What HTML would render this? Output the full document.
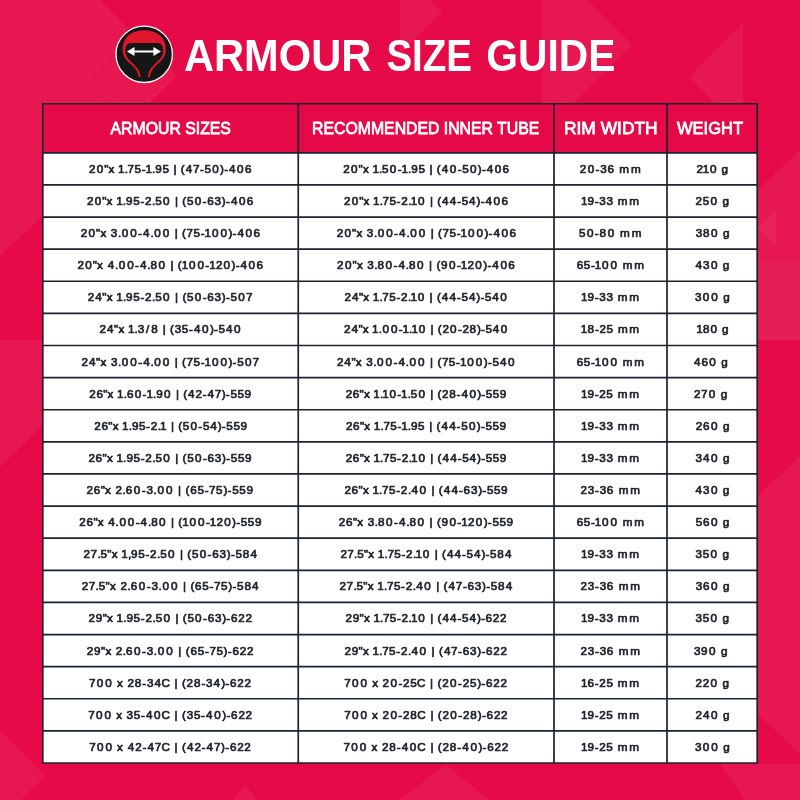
<!DOCTYPE html>
<html lang="en"><head><meta charset="utf-8"><title>Armour Size Guide</title>
<style>
html,body{margin:0;padding:0}
body{width:800px;height:800px;overflow:hidden;position:relative;background:#e60b48;font-family:"Liberation Sans",sans-serif;}
#bg{position:absolute;left:0;top:0}
.h{position:absolute;display:flex;align-items:center;justify-content:center;white-space:nowrap;font-weight:normal;color:#fff;font-size:17.00px;-webkit-text-stroke:0.80px #fff}
.h span{display:inline-block}
</style></head><body>
<svg id="bg" width="800" height="800" viewBox="0 0 800 800">
<rect width="800" height="800" fill="#e60b48"/>
<g fill="#fff" fill-opacity="0.05">
<polygon points="0,0 100,0 176,76 149,103 60,103 60,199 0,256"/>
<polygon points="0,340 60,340 60,408 0,467"/>
<polygon points="743,23 689,77 743,131"/>
<polygon points="542,0 587,0 632,45 574,103 542,103"/>
<polygon points="400,0 430,0 442,12 400,54"/>
<polygon points="740,207 800,150 800,340 740,340"/>
<polygon points="757,228 776,210 776,246"/>
<polygon points="740,262 800,262 800,340 740,340" fill-opacity="0.03"/>
<polygon points="740,513 800,456 800,753 740,698"/>
<polygon points="0,730 45.6,775.7 21,800 0,800"/>
<polygon points="400,800 445,765 490,800"/>
<polygon points="720,764 800,764 800,800 745,800"/>
<polygon points="233,800 245,784 256,800"/>
</g>
<polygon points="88.5,75 132,31.5 175.5,75 132,118.5" fill="none" stroke="#fff" stroke-opacity="0.08" stroke-width="1"/>
</svg>
<svg id="logo" style="position:absolute;left:110px;top:20px" width="70" height="70" viewBox="110 20 70 70">
<circle cx="144.2" cy="54.3" r="28.2" fill="#161616" stroke="#fff" stroke-width="1.3"/>
<path d="M144.2 30.3 C130.5 30.3 122.6 38 122.6 49.5 C122.6 58 128 61.2 132 65.2 C136 69.2 138 72 138.6 77 L140.6 77 C140 71 137.5 68 133.5 64 C129.5 60 125.2 57 125.2 51 C125.2 46 127 43 131 43 L157.4 43 C161.4 43 163.2 46 163.2 51 C163.2 57 158.9 60 154.9 64 C150.9 68 148.4 71 147.8 77 L149.8 77 C150.4 72 152.4 69.2 156.4 65.2 C160.4 61.2 165.8 58 165.8 49.5 C165.8 38 157.9 30.3 144.2 30.3 Z" fill="#e0162d"/>
<path d="M127 51.4 L134.5 46.9 L134.5 50.4 L153.4 50.4 L153.4 46.9 L160.9 51.4 L153.4 55.9 L153.4 52.4 L134.5 52.4 L134.5 55.9 Z" fill="#fff"/>
</svg>
<svg style="position:absolute;left:0;top:0" width="800" height="100" viewBox="0 0 800 100"><g font-family="Liberation Sans, sans-serif" font-weight="bold" font-size="45.00" fill="#fff" style="font-kerning:none">
<text transform="scale(0.9255,1)" x="198.77" y="71.00">ARMOUR</text>
<text transform="scale(0.8570,1)" x="450.86" y="71.00">SIZE</text>
<text transform="scale(0.9053,1)" x="537.23" y="71.00">GUIDE</text>
</g></svg>
<div style="position:absolute;left:42.80px;top:103.75px;width:714.40px;height:49.05px;background:#e50a47"></div>
<div style="position:absolute;left:42.80px;top:152.80px;width:714.40px;height:610.20px;background:#fff"></div>
<svg style="position:absolute;left:0;top:0" width="800" height="800" viewBox="0 0 800 800"><g stroke="#1a2330" stroke-width="1.70" fill="none">
<path d="M42.80 102.90V763.85M298.25 102.90V763.85M554.00 102.90V763.85M667.00 102.90V763.85M757.20 102.90V763.85M41.95 103.75H758.05M41.95 152.80H758.05M41.95 184.92H758.05M41.95 217.03H758.05M41.95 249.15H758.05M41.95 281.26H758.05M41.95 313.38H758.05M41.95 345.49H758.05M41.95 377.61H758.05M41.95 409.73H758.05M41.95 441.84H758.05M41.95 473.96H758.05M41.95 506.07H758.05M41.95 538.19H758.05M41.95 570.31H758.05M41.95 602.42H758.05M41.95 634.54H758.05M41.95 666.65H758.05M41.95 698.77H758.05M41.95 730.88H758.05M41.95 763.00H758.05"/>
</g></svg>
<div class="h" style="left:42.80px;top:103.75px;width:255.45px;height:49.05px"><span style="transform:translate(0.00px,1.00px) scaleX(0.9302)">ARMOUR SIZES</span></div>
<div class="h" style="left:298.25px;top:103.75px;width:255.75px;height:49.05px"><span style="transform:translate(-0.50px,1.00px) scaleX(0.9296)">RECOMMENDED INNER TUBE</span></div>
<div class="h" style="left:554.00px;top:103.75px;width:113.00px;height:49.05px"><span style="transform:translate(0.00px,1.00px) scaleX(1.0225)">RIM WIDTH</span></div>
<div class="h" style="left:667.00px;top:103.75px;width:90.20px;height:49.05px"><span style="transform:translate(-2.00px,1.00px) scaleX(0.9706)">WEIGHT</span></div>
<svg style="position:absolute;left:0;top:0" width="800" height="800" viewBox="0 0 800 800"><g font-family="Liberation Sans, sans-serif" font-size="11.70" fill="#1d212b" stroke="#1d212b" stroke-width="0.70" stroke-linejoin="round" style="font-kerning:none;white-space:pre">
<text x="89.0 96.8 104.2 108.6 114.7 118.1 124.7 127.6 134.5 141.7 145.5 152.1 155.3 162.4 169.1 173.6 177.2 180.8 185.8 192.9 199.9 204.5 212.2 220.1 224.2 229.1 237.1 244.9" y="172.85" xml:space="preserve">20"x 1.75-1.95 | (47-50)-406</text>
<text x="343.3 351.0 358.5 362.9 369.0 372.4 379.0 382.1 389.8 397.7 401.5 408.1 411.3 418.4 425.1 429.6 433.2 436.8 441.8 449.8 457.7 462.2 469.9 477.8 481.9 486.8 494.8 502.6" y="172.85" xml:space="preserve">20"x 1.50-1.95 | (40-50)-406</text>
<text x="579.8 587.7 595.6 600.3 607.5 614.5 619.3 631.0" y="172.85" xml:space="preserve">20-36 mm</text>
<text x="696.6 702.8 710.0 717.3 721.5" y="172.85" xml:space="preserve">210 g</text>
<text x="86.9 94.7 102.2 106.6 112.7 116.2 122.8 126.0 133.2 140.4 145.0 152.0 155.2 163.0 170.5 175.0 178.6 182.3 186.9 194.7 202.6 207.3 214.5 221.8 225.9 230.9 238.9 246.7" y="204.97" xml:space="preserve">20"x 1.95-2.50 | (50-63)-406</text>
<text x="344.0 351.7 359.2 363.6 369.7 373.1 379.7 382.6 389.5 396.6 401.2 408.2 410.7 418.0 425.5 429.9 433.5 437.2 442.1 449.8 457.2 461.8 469.1 476.6 480.7 485.6 493.6 501.4" y="204.97" xml:space="preserve">20"x 1.75-2.10 | (44-54)-406</text>
<text x="580.9 587.5 594.7 599.3 606.4 613.1 617.8 629.3" y="204.97" xml:space="preserve">19-33 mm</text>
<text x="695.6 702.7 710.6 718.1 722.5" y="204.97" xml:space="preserve">250 g</text>
<text x="80.8 88.6 96.1 100.5 106.6 110.8 117.9 121.7 130.2 138.1 143.1 150.4 154.3 162.8 170.3 174.7 178.4 182.1 186.6 193.5 200.7 204.6 212.0 220.5 228.4 232.5 237.5 245.6 253.4" y="237.08" xml:space="preserve">20"x 3.00-4.00 | (75-100)-406</text>
<text x="336.8 344.6 352.1 356.5 362.6 366.8 373.9 377.7 386.2 394.1 399.1 406.4 410.3 418.8 426.3 430.7 434.4 438.1 442.6 449.5 456.7 460.6 468.0 476.5 484.4 488.5 493.5 501.6 509.4" y="237.08" xml:space="preserve">20"x 3.00-4.00 | (75-100)-406</text>
<text x="579.0 586.9 594.8 599.6 607.7 615.2 620.1 631.8" y="237.08" xml:space="preserve">50-80 mm</text>
<text x="695.7 703.0 711.0 718.5 723.0" y="237.08" xml:space="preserve">380 g</text>
<text x="77.5 85.3 92.8 97.1 103.2 107.7 115.0 118.8 127.3 135.1 140.0 147.3 150.6 158.6 166.0 170.5 174.1 177.8 181.7 189.0 197.5 205.3 209.2 215.9 223.6 231.6 235.7 240.6 248.6 256.4" y="269.20" xml:space="preserve">20"x 4.00-4.80 | (100-120)-406</text>
<text x="337.1 345.0 352.5 356.9 363.0 367.2 374.3 377.6 385.6 393.5 398.5 405.8 409.1 417.1 424.6 429.1 432.7 436.4 441.1 449.0 456.9 460.8 467.5 475.3 483.3 487.4 492.3 500.4 508.2" y="269.20" xml:space="preserve">20"x 3.80-4.80 | (90-120)-406</text>
<text x="576.7 583.8 591.0 594.8 602.1 610.5 618.0 622.7 634.2" y="269.20" xml:space="preserve">65-100 mm</text>
<text x="695.6 703.1 710.9 718.4 722.8" y="269.20" xml:space="preserve">430 g</text>
<text x="87.7 95.2 102.3 106.7 112.8 116.3 122.9 126.1 133.2 140.4 145.1 152.1 155.3 163.0 170.5 175.0 178.7 182.4 187.0 194.8 202.7 207.3 214.6 221.8 226.0 230.6 238.3 245.9" y="301.31" xml:space="preserve">24"x 1.95-2.50 | (50-63)-507</text>
<text x="344.5 351.9 358.9 363.3 369.4 372.8 379.4 382.3 389.2 396.4 400.9 407.9 410.4 417.7 425.2 429.6 433.2 436.9 441.8 449.5 456.9 461.5 468.9 476.3 480.4 485.0 492.3 500.3" y="301.31" xml:space="preserve">24"x 1.75-2.10 | (44-54)-540</text>
<text x="580.9 587.5 594.7 599.3 606.4 613.1 617.8 629.3" y="301.31" xml:space="preserve">19-33 mm</text>
<text x="694.9 702.7 711.3 718.8 723.2" y="301.31" xml:space="preserve">300 g</text>
<text x="99.5 106.9 114.0 118.4 124.5 128.0 134.6 137.8 146.1 151.2 158.2 162.7 166.3 170.0 174.7 181.8 189.0 193.9 202.0 209.9 214.0 218.6 226.0 234.1" y="333.43" xml:space="preserve">24"x 1.3/8 | (35-40)-540</text>
<text x="344.0 351.4 358.4 362.7 368.8 372.1 378.7 382.5 390.9 398.7 402.5 409.0 411.4 418.7 426.1 430.5 434.2 437.8 442.4 450.1 457.9 462.4 469.6 477.0 481.0 485.5 492.8 500.8" y="333.43" xml:space="preserve">24"x 1.00-1.10 | (20-28)-540</text>
<text x="580.8 587.6 594.9 599.5 606.5 613.2 617.9 629.3" y="333.43" xml:space="preserve">18-25 mm</text>
<text x="696.2 702.9 710.6 718.0 722.1" y="333.43" xml:space="preserve">180 g</text>
<text x="81.6 89.1 96.1 100.6 106.7 110.9 117.9 121.8 130.3 138.2 143.2 150.5 154.3 162.8 170.3 174.8 178.5 182.1 186.6 193.6 200.7 204.6 212.0 220.5 228.5 232.6 237.2 245.0 252.6" y="365.54" xml:space="preserve">24"x 3.00-4.00 | (75-100)-507</text>
<text x="336.9 344.3 351.4 355.8 361.9 366.2 373.2 377.1 385.6 393.5 398.4 405.7 409.6 418.1 425.6 430.1 433.7 437.4 441.9 448.8 456.0 459.9 467.3 475.8 483.8 487.9 492.5 499.9 508.0" y="365.54" xml:space="preserve">24"x 3.00-4.00 | (75-100)-540</text>
<text x="576.7 583.8 591.0 594.8 602.1 610.5 618.0 622.7 634.2" y="365.54" xml:space="preserve">65-100 mm</text>
<text x="693.9 701.4 709.3 716.9 721.3" y="365.54" xml:space="preserve">460 g</text>
<text x="89.3 96.4 103.2 107.6 113.7 117.1 123.7 126.9 134.7 142.6 146.4 153.0 156.2 164.0 171.4 175.9 179.5 183.2 188.1 195.5 202.6 207.5 214.7 221.8 225.8 230.4 237.4 244.5" y="397.66" xml:space="preserve">26"x 1.60-1.90 | (42-47)-559</text>
<text x="345.7 352.7 359.6 363.9 370.0 373.3 379.9 382.3 389.5 397.3 401.1 407.7 410.8 418.4 425.9 430.3 433.9 437.5 442.1 449.3 456.6 461.4 469.4 477.3 481.3 485.8 492.8 499.8" y="397.66" xml:space="preserve">26"x 1.10-1.50 | (28-40)-559</text>
<text x="580.9 587.6 594.8 599.3 606.3 613.1 617.7 629.2" y="397.66" xml:space="preserve">19-25 mm</text>
<text x="694.1 701.1 708.8 716.3 720.7" y="397.66" xml:space="preserve">270 g</text>
<text x="94.3 101.4 108.3 112.7 118.7 122.1 128.7 131.9 139.0 146.1 150.7 157.7 160.1 166.5 170.9 174.6 178.2 182.8 190.5 198.3 202.9 210.2 217.7 221.8 226.3 233.4 240.4" y="429.78" xml:space="preserve">26"x 1.95-2.1 | (50-54)-559</text>
<text x="346.0 353.1 360.0 364.3 370.4 373.8 380.4 383.4 390.2 397.4 401.2 407.8 411.0 418.1 424.8 429.3 432.9 436.6 441.5 449.2 456.6 461.2 468.9 476.8 480.9 485.4 492.4 499.5" y="429.78" xml:space="preserve">26"x 1.75-1.95 | (44-50)-559</text>
<text x="580.9 587.5 594.7 599.3 606.4 613.1 617.8 629.3" y="429.78" xml:space="preserve">19-33 mm</text>
<text x="695.7 702.9 710.9 718.4 722.9" y="429.78" xml:space="preserve">260 g</text>
<text x="88.5 95.6 102.6 107.0 113.1 116.5 123.1 126.4 133.5 140.7 145.3 152.4 155.5 163.3 170.8 175.3 178.9 182.6 187.3 195.0 202.9 207.6 214.8 222.1 226.2 230.8 237.9 245.0" y="461.89" xml:space="preserve">26"x 1.95-2.50 | (50-63)-559</text>
<text x="345.7 352.8 359.7 364.1 370.1 373.5 380.1 383.1 390.0 397.1 401.7 408.7 411.1 418.4 425.9 430.3 434.0 437.6 442.6 450.2 457.7 462.2 469.6 477.1 481.2 485.7 492.7 499.8" y="461.89" xml:space="preserve">26"x 1.75-2.10 | (44-54)-559</text>
<text x="580.9 587.5 594.7 599.3 606.4 613.1 617.8 629.3" y="461.89" xml:space="preserve">19-33 mm</text>
<text x="695.5 703.0 711.1 718.7 723.1" y="461.89" xml:space="preserve">340 g</text>
<text x="86.5 93.7 100.7 105.1 111.3 115.5 122.6 125.8 133.8 141.8 146.5 153.5 157.4 166.0 173.5 178.0 181.7 185.4 190.2 197.4 204.7 209.1 216.1 223.4 227.5 232.2 239.3 246.5" y="494.01" xml:space="preserve">26"x 2.60-3.00 | (65-75)-559</text>
<text x="344.4 351.6 358.5 362.9 369.0 372.5 379.1 382.1 389.0 396.2 400.8 407.9 411.4 419.5 427.0 431.4 435.1 438.8 443.8 451.5 459.0 463.6 470.9 478.2 482.3 486.9 493.9 501.0" y="494.01" xml:space="preserve">26"x 1.75-2.40 | (44-63)-559</text>
<text x="580.5 587.7 595.0 599.7 606.8 613.8 618.7 630.3" y="494.01" xml:space="preserve">23-36 mm</text>
<text x="695.6 703.1 710.9 718.4 722.8" y="494.01" xml:space="preserve">430 g</text>
<text x="79.3 86.5 93.4 97.7 103.8 108.3 115.6 119.4 127.8 135.7 140.6 147.9 151.2 159.1 166.6 171.1 174.7 178.3 182.3 189.6 198.0 205.9 209.8 216.4 224.2 232.1 236.2 240.8 247.8 254.9" y="526.12" xml:space="preserve">26"x 4.00-4.80 | (100-120)-559</text>
<text x="338.8 346.0 352.9 357.3 363.5 367.7 374.7 378.1 386.0 394.0 398.9 406.2 409.6 417.5 425.0 429.5 433.2 436.9 441.6 449.4 457.3 461.2 467.9 475.8 483.7 487.8 492.4 499.5 506.6" y="526.12" xml:space="preserve">26"x 3.80-4.80 | (90-120)-559</text>
<text x="576.7 583.8 591.0 594.8 602.1 610.5 618.0 622.7 634.2" y="526.12" xml:space="preserve">65-100 mm</text>
<text x="695.7 702.9 710.9 718.4 722.8" y="526.12" xml:space="preserve">560 g</text>
<text x="83.6 90.5 97.4 100.6 107.3 111.8 117.9 121.3 127.9 131.0 138.2 145.4 150.0 157.0 160.2 168.0 175.5 180.0 183.6 187.3 192.0 199.7 207.6 212.3 219.6 226.8 230.9 235.5 242.8 250.4" y="558.24" xml:space="preserve">27.5"x 1,95-2.50 | (50-63)-584</text>
<text x="340.4 347.3 354.1 357.2 364.0 368.3 374.4 377.8 384.4 387.4 394.3 401.4 406.0 413.0 415.4 422.8 430.2 434.7 438.3 442.0 446.9 454.6 462.1 466.6 474.0 481.5 485.6 490.1 497.3 504.9" y="558.24" xml:space="preserve">27.5"x 1.75-2.10 | (44-54)-584</text>
<text x="580.9 587.5 594.7 599.3 606.4 613.1 617.8 629.3" y="558.24" xml:space="preserve">19-33 mm</text>
<text x="695.6 702.8 710.6 718.1 722.5" y="558.24" xml:space="preserve">350 g</text>
<text x="81.7 88.7 95.6 98.8 105.6 110.0 116.2 120.4 127.5 130.8 138.7 146.7 151.4 158.4 162.4 170.9 178.4 183.0 186.6 190.4 195.1 202.3 209.6 214.0 221.0 228.3 232.4 237.1 244.4 252.1" y="590.36" xml:space="preserve">27.5"x 2.60-3.00 | (65-75)-584</text>
<text x="339.6 346.5 353.4 356.6 363.3 367.8 373.9 377.3 383.9 386.9 393.9 401.1 405.7 412.7 416.2 424.3 431.8 436.3 440.0 443.6 448.6 455.8 462.9 467.5 474.8 482.1 486.2 490.8 498.0 505.7" y="590.36" xml:space="preserve">27.5"x 1.75-2.40 | (47-63)-584</text>
<text x="580.5 587.7 595.0 599.7 606.8 613.8 618.7 630.3" y="590.36" xml:space="preserve">23-36 mm</text>
<text x="695.8 702.9 710.9 718.4 722.9" y="590.36" xml:space="preserve">360 g</text>
<text x="88.6 95.8 102.7 107.1 113.2 116.6 123.3 126.5 133.6 140.8 145.4 152.5 155.7 163.4 170.9 175.4 179.1 182.7 187.4 195.1 203.1 207.7 215.0 222.2 226.3 231.0 238.2 245.4" y="622.47" xml:space="preserve">29"x 1.95-2.50 | (50-63)-622</text>
<text x="345.6 352.7 359.5 363.9 370.0 373.4 380.0 383.0 389.8 397.0 401.5 408.6 411.0 418.3 425.8 430.2 433.9 437.5 442.4 450.1 457.5 462.1 469.5 476.9 481.0 485.6 492.8 499.9" y="622.47" xml:space="preserve">29"x 1.75-2.10 | (44-54)-622</text>
<text x="580.9 587.5 594.7 599.3 606.4 613.1 617.8 629.3" y="622.47" xml:space="preserve">19-33 mm</text>
<text x="695.6 702.8 710.6 718.1 722.5" y="622.47" xml:space="preserve">350 g</text>
<text x="86.8 94.0 100.9 105.4 111.5 115.8 122.8 126.1 134.1 142.0 146.7 153.8 157.7 166.2 173.8 178.3 182.0 185.7 190.4 197.7 204.9 209.4 216.4 223.6 227.8 232.5 239.8 246.9" y="654.59" xml:space="preserve">29"x 2.60-3.00 | (65-75)-622</text>
<text x="344.6 351.7 358.6 363.0 369.1 372.6 379.2 382.2 389.1 396.3 400.9 408.0 411.5 419.6 427.1 431.5 435.2 438.9 443.9 451.1 458.1 462.8 470.0 477.3 481.4 486.0 493.3 500.4" y="654.59" xml:space="preserve">29"x 1.75-2.40 | (47-63)-622</text>
<text x="580.5 587.7 595.0 599.7 606.8 613.8 618.7 630.3" y="654.59" xml:space="preserve">23-36 mm</text>
<text x="693.9 701.1 709.0 716.5 721.0" y="654.59" xml:space="preserve">390 g</text>
<text x="89.1 96.8 105.3 112.8 117.0 123.1 127.4 134.7 142.2 146.9 154.4 161.4 170.0 174.5 178.2 181.9 186.6 194.0 201.4 206.1 213.6 221.2 225.3 230.0 237.3 244.5" y="686.70" xml:space="preserve">700 x 28-34C | (28-34)-622</text>
<text x="344.3 352.0 360.6 368.1 372.3 378.4 382.6 390.5 398.5 403.1 410.3 417.0 425.6 430.1 433.8 437.5 442.2 450.1 458.1 462.7 469.9 477.2 481.3 486.0 493.3 500.5" y="686.70" xml:space="preserve">700 x 20-25C | (20-25)-622</text>
<text x="580.9 587.6 594.8 599.3 606.4 613.1 617.8 629.2" y="686.70" xml:space="preserve">16-25 mm</text>
<text x="695.5 702.7 710.6 718.1 722.5" y="686.70" xml:space="preserve">220 g</text>
<text x="88.2 95.9 104.5 112.0 116.2 122.3 126.6 133.7 140.9 145.9 154.1 161.5 170.1 174.6 178.3 182.0 186.8 193.9 201.1 206.1 214.2 222.2 226.4 231.1 238.4 245.6" y="718.82" xml:space="preserve">700 x 35-40C | (35-40)-622</text>
<text x="344.2 351.9 360.4 367.9 372.1 378.2 382.5 390.4 398.3 403.0 410.3 417.3 425.8 430.4 434.0 437.8 442.5 450.3 458.3 463.0 470.3 477.8 482.0 486.6 493.9 501.1" y="718.82" xml:space="preserve">700 x 20-28C | (20-28)-622</text>
<text x="580.9 587.6 594.8 599.3 606.3 613.1 617.7 629.2" y="718.82" xml:space="preserve">19-25 mm</text>
<text x="695.5 703.0 711.1 718.7 723.1" y="718.82" xml:space="preserve">240 g</text>
<text x="89.2 96.9 105.4 113.0 117.1 123.3 127.8 135.3 142.6 147.6 154.8 161.4 170.0 174.5 178.2 181.9 186.9 194.4 201.6 206.6 213.9 221.0 225.2 229.9 237.2 244.3" y="750.93" xml:space="preserve">700 x 42-47C | (42-47)-622</text>
<text x="343.6 351.3 359.8 367.4 371.5 377.7 381.9 389.3 396.7 401.7 409.8 417.3 425.8 430.4 434.0 437.8 442.5 449.8 457.3 462.3 470.4 478.4 482.5 487.2 494.5 501.7" y="750.93" xml:space="preserve">700 x 28-40C | (28-40)-622</text>
<text x="580.9 587.6 594.8 599.3 606.3 613.1 617.7 629.2" y="750.93" xml:space="preserve">19-25 mm</text>
<text x="694.9 702.7 711.3 718.8 723.2" y="750.93" xml:space="preserve">300 g</text>
</g></svg>
</body></html>
